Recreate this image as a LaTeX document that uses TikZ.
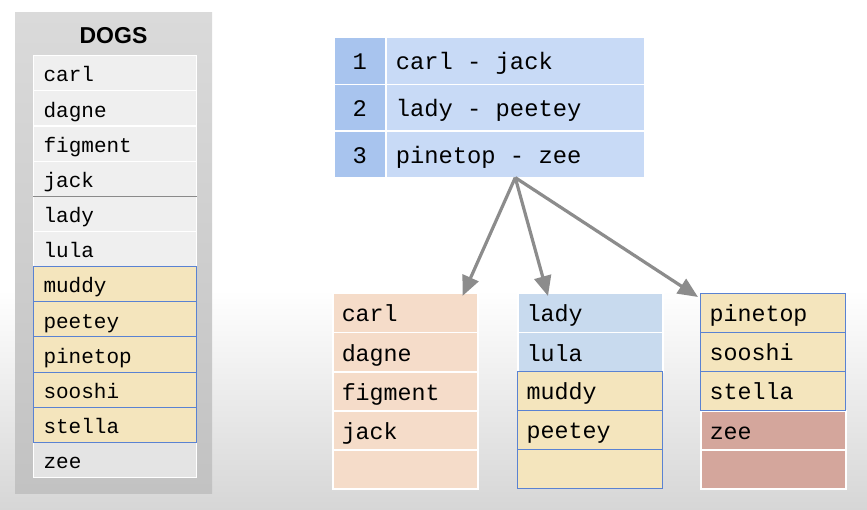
\documentclass[tikz,border=0pt]{standalone}
\usepackage{fontspec}
\setmainfont{Liberation Sans}
\setmonofont{Liberation Mono}
\usetikzlibrary{arrows.meta}
\definecolor{bgbot}{HTML}{D6D6D6}
\definecolor{outtop}{HTML}{DADADA}
\definecolor{outbot}{HTML}{C2C2C2}
\definecolor{rowgray}{HTML}{EFEFEF}
\definecolor{rowgray2}{HTML}{E4E4E4}
\definecolor{yel}{HTML}{F4E5BD}
\definecolor{hlblue}{HTML}{5A82D2}
\definecolor{numblue}{HTML}{A8C4EE}
\definecolor{txtblue}{HTML}{C8DAF6}
\definecolor{peach}{HTML}{F5DCC9}
\definecolor{ltblue}{HTML}{C8DAEE}
\definecolor{pink}{HTML}{D4A69C}
\definecolor{arrgray}{HTML}{8C8C8C}
\definecolor{jackline}{HTML}{8A8A8A}
\newcommand{\monosz}[1]{\ttfamily\fontsize{#1}{#1}\selectfont}
\newcommand{\msp}{\hspace*{0.6em}}
\begin{document}
\begin{tikzpicture}[x=1pt,y=-1pt,
  mono/.style={font=\monosz{#1}, text height=17.5pt, text depth=0pt},
  dogrow/.style={anchor=north west, minimum height=35.17pt, text width=143pt, inner xsep=10pt, inner ysep=0pt,
    align=left, mono=21, fill=rowgray, draw=white, line width=1.2pt},
  hlrow/.style={dogrow, fill=yel, draw=hlblue, line width=1pt},
  numcell/.style={anchor=north west, minimum height=46.7pt, minimum width=52pt, inner sep=0pt,
    mono=23.8, fill=numblue, draw=white, line width=1.5pt},
  txtcell/.style={anchor=north west, minimum height=46.7pt, text width=239pt, inner xsep=10pt, inner ysep=0pt,
    align=left, mono=23.8, fill=txtblue, draw=white, line width=1.5pt},
  lrow/.style={anchor=north west, minimum height=39pt, text width=127pt, inner xsep=9pt, inner ysep=0pt,
    align=left, mono=23.3, fill=#1, draw=white, line width=1.5pt},
  lhl/.style={lrow=yel, draw=hlblue, line width=1.2pt},
  arr/.style={draw=arrgray, line width=3.2pt, -{Triangle[length=20pt,width=17pt]}}
]
\useasboundingbox (0,0) rectangle (867,510);
\fill[white] (0,0) rectangle (867,290);
\shade[top color=white, bottom color=bgbot] (0,290) rectangle (867,510);

% DOGS table
\node[anchor=north west, minimum width=197pt, minimum height=481pt, inner sep=0pt,
  top color=outtop, bottom color=outbot] (dogs) at (15,12) {};
\node[anchor=base, font=\bfseries\fontsize{23}{23}\selectfont, inner sep=0pt] (title) at (113.5,44) {DOGS};
\node[dogrow] (d1) at (33,55) {carl};
\node[dogrow] (d2) at (33,90.17) {dagne};
\node[dogrow] (d3) at (33,125.34) {figment};
\node[dogrow] (d4) at (33,160.51) {jack};
\node[dogrow] (d5) at (33,195.68) {lady};
\node[dogrow] (d6) at (33,230.85) {lula};
\node[dogrow, fill=rowgray2] (d12) at (33,441.87) {zee};
\node[hlrow] (d7) at (33,266.02) {muddy};
\node[hlrow] (d8) at (33,301.19) {peetey};
\node[hlrow] (d9) at (33,336.36) {pinetop};
\node[hlrow] (d10) at (33,371.53) {sooshi};
\node[hlrow] (d11) at (33,406.7) {stella};
\draw[jackline, line width=1.2pt] (d4.south west) -- (d4.south east);

% top index table
\node[numcell] (n1) at (333,37) {1};
\node[numcell] (n2) at (333,83.7) {2};
\node[numcell] (n3) at (333,130.4) {3};
\node[txtcell] (t1) at (385,37) {carl\msp-\msp jack};
\node[txtcell] (t2) at (385,83.7) {lady\msp-\msp peetey};
\node[txtcell] (t3) at (385,130.4) {pinetop\msp-\msp zee};

% page 1
\node[lrow=peach] (a1) at (332,293) {carl};
\node[lrow=peach] (a2) at (332,332) {dagne};
\node[lrow=peach] (a3) at (332,371) {figment};
\node[lrow=peach] (a4) at (332,410) {jack};
\node[lrow=peach] (a5) at (332,449) {};

% page 2
\node[lrow=ltblue] (b1) at (517,293) {lady};
\node[lrow=ltblue] (b2) at (517,332) {lula};
\node[lhl] (b3) at (517,371) {muddy};
\node[lhl] (b4) at (517,410) {peetey};
\node[lhl] (b5) at (517,449) {};

% page 3
\node[lrow=pink] (c4) at (700,410) {zee};
\node[lrow=pink] (c5) at (700,449) {};
\node[lhl] (c1) at (700,293) {pinetop};
\node[lhl] (c2) at (700,332) {sooshi};
\node[lhl] (c3) at (700,371) {stella};

% arrows
\coordinate (src) at ([yshift=1pt]t3.south);
\coordinate (e1) at ([xshift=-16pt,yshift=-3pt]a1.north east);
\coordinate (e2) at ([xshift=31pt,yshift=-3pt]b1.north west);
\coordinate (e3) at ([xshift=-2pt,yshift=-4pt]c1.north west);
\draw[arr] (src) -- (e1);
\draw[arr] (src) -- (e2);
\draw[arr] (src) -- (e3);
\end{tikzpicture}
\end{document}
